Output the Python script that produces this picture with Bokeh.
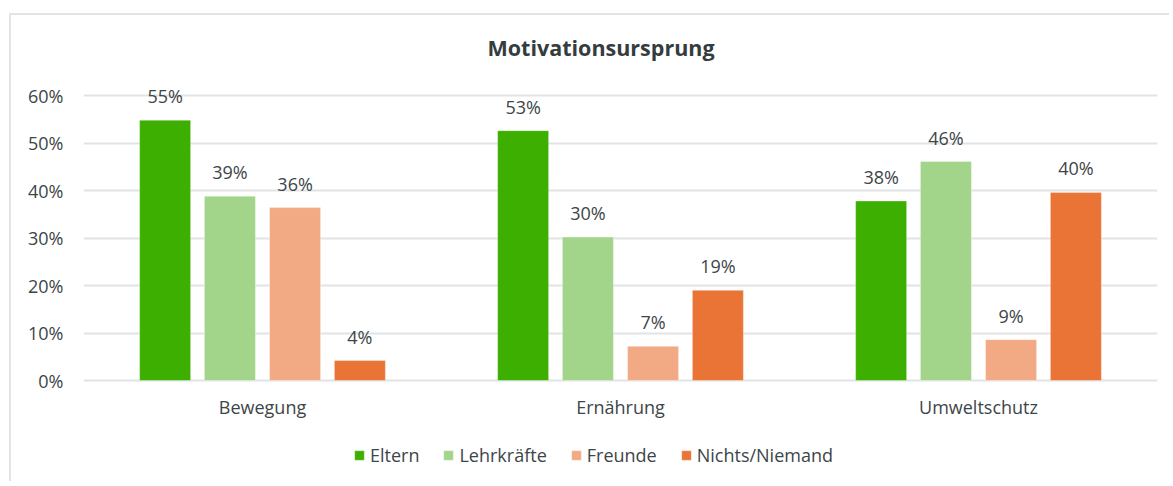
from bokeh.plotting import figure
from bokeh.models import FactorRange, Range1d, FixedTicker, PrintfTickFormatter, Legend, LegendItem, ColumnDataSource
from bokeh.transform import dodge
from bokeh.core.properties import value
from bokeh.embed import file_html
from bokeh.resources import INLINE

categories = ["Bewegung", "Ernährung", "Umweltschutz"]
series = ["Eltern", "Lehrkräfte", "Freunde", "Nichts/Niemand"]
eltern = [54.8, 52.6, 37.8]
lehrkraefte = [38.8, 30.2, 46.1]
freunde = [36.4, 7.2, 8.6]
nichts = [4.2, 19.0, 39.6]
y_ticks = [0, 10, 20, 30, 40, 50, 60]

colors = ["#3caf00", "#a2d48a", "#f2aa84", "#ea7435"]
offsets = [-0.272, -0.091, 0.091, 0.272]
values_list = [eltern, lehrkraefte, freunde, nichts]

FONT = "Open Sans"
TXT = "#3d4548"
GRID = "#e0e4e6"

p = figure(
    x_range=FactorRange(factors=categories, range_padding=0),
    y_range=Range1d(-21.684, 65.895),
    width=1160, height=468,
    min_border_left=72, min_border_right=14, min_border_top=52, min_border_bottom=0,
    output_backend="svg", toolbar_location=None,
    title="Motivationsursprung",
)
p.styles = {"border-top": "2px solid #e1e5e7", "border-left": "2px solid #e1e5e7",
            "margin-top": "13px", "margin-left": "9px"}

p.title.align = "left"
p.title.text_font = FONT
p.title.text_font_size = "21.5px"
p.title.text_font_style = "bold"
p.title.text_color = "#343c3e"
p.title.standoff = 11
p.title.offset = 404

items = []
for name, vals, col, off in zip(series, values_list, colors, offsets):
    src = ColumnDataSource(dict(cat=categories, val=vals, lab=[f"{round(v)}%" for v in vals]))
    r = p.vbar(x=dodge("cat", off, range=p.x_range), top="val", bottom=0, width=0.1425, source=src,
               fill_color=col, line_color="white", line_alpha=0.35, line_width=1)
    p.text(x=dodge("cat", off, range=p.x_range), y="val", text="lab", source=src,
           text_align="center", text_baseline="middle", y_offset=-24,
           text_font=value(FONT), text_font_size="18px", text_color=TXT)
    items.append(LegendItem(label=name, renderers=[r]))

legend = Legend(items=items, orientation="horizontal", location=(270, 16),
                glyph_width=12, glyph_height=12, label_standoff=5, spacing=23,
                label_text_font=FONT, label_text_font_size="18px", label_text_color=TXT,
                border_line_color=None, background_fill_alpha=0, padding=4, margin=0)
p.add_layout(legend, "center")

p.yaxis.ticker = FixedTicker(ticks=y_ticks)
p.yaxis.formatter = PrintfTickFormatter(format="%d%%")
p.xaxis.fixed_location = 0
for ax in (p.xaxis, p.yaxis):
    ax.axis_line_color = None
    ax.major_tick_line_color = None
    ax.minor_tick_line_color = None
    ax.major_label_text_font = FONT
    ax.major_label_text_font_size = "18px"
    ax.major_label_text_color = TXT
p.yaxis.major_label_standoff = 14
p.xaxis.major_label_standoff = 8

p.xgrid.grid_line_color = None
p.ygrid.grid_line_color = GRID
p.ygrid.grid_line_width = 2
p.outline_line_color = None

open("out.html", "w").write(file_html(p, INLINE))
